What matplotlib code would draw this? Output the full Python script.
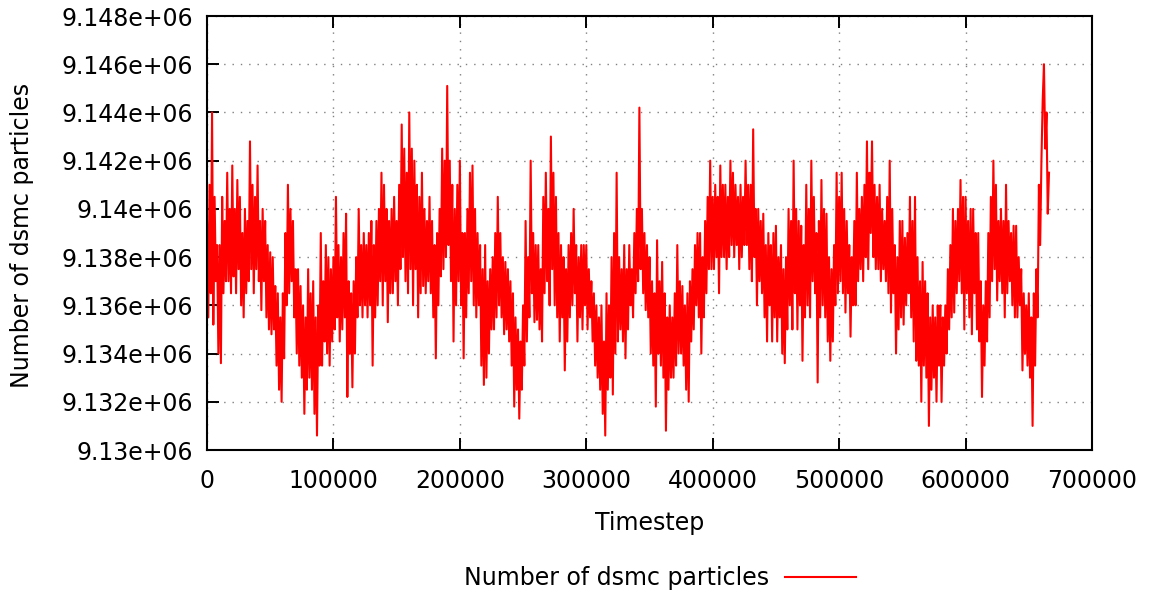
import matplotlib
matplotlib.use("Agg")
import matplotlib.pyplot as plt
from matplotlib.ticker import MultipleLocator, FuncFormatter
import numpy as np

# Output interval between samples (timesteps)
sample_every = 1000

# Number of DSMC particles, one value per sample
dsmc_particles = [
    9139500, 9135500, 9141000, 9136500, 9144000, 9135200, 9140500, 9137000, 9138500, 9134000,
    9138500, 9133600, 9140500, 9136500, 9139500, 9137000, 9141500, 9137000, 9140000, 9136500,
    9141800, 9137200, 9140000, 9136500, 9141200, 9137500, 9140500, 9136000, 9139000, 9135500,
    9140000, 9136500, 9139500, 9137000, 9142800, 9137500, 9141000, 9136500, 9140500, 9137500,
    9141800, 9137000, 9139500, 9135800, 9140000, 9137000, 9139500, 9135500, 9138500, 9135000,
    9138200, 9134800, 9138000, 9135000, 9136800, 9133500, 9136500, 9132500, 9135500, 9132000,
    9136500, 9133800, 9139000, 9136000, 9141000, 9136500, 9140000, 9137000, 9139500, 9135500,
    9137500, 9134000, 9137500, 9133500, 9136800, 9133000, 9136000, 9131500, 9135500, 9132500,
    9137500, 9133000, 9136500, 9132500, 9137000, 9131500, 9135500, 9130600, 9136000, 9133500,
    9139000, 9133500, 9137000, 9134500, 9138500, 9134000, 9138000, 9133500, 9137500, 9134500,
    9138000, 9135000, 9140500, 9135500, 9138500, 9134500, 9138000, 9135000, 9139000, 9135500,
    9139800, 9132200, 9137000, 9134000, 9136500, 9132600, 9137000, 9134000, 9138000, 9135500,
    9140000, 9136000, 9138500, 9135500, 9139000, 9136000, 9138500, 9135500, 9139000, 9136000,
    9139500, 9133500, 9138500, 9135500, 9139500, 9136000, 9140000, 9137000, 9141500, 9136000,
    9141000, 9137000, 9140000, 9135300, 9139500, 9136500, 9140000, 9136500, 9140500, 9137000,
    9139500, 9136000, 9141000, 9137500, 9143500, 9138000, 9142500, 9137000, 9141500, 9136500,
    9144000, 9137500, 9142500, 9136000, 9142000, 9137500, 9141000, 9135500, 9140500, 9136500,
    9141500, 9136800, 9140000, 9136500, 9139500, 9137000, 9140500, 9136500, 9139500, 9135500,
    9138500, 9133800, 9139000, 9136000, 9140000, 9137200, 9142500, 9137500, 9142000, 9138000,
    9145100, 9138500, 9142000, 9137000, 9141000, 9134500, 9140000, 9136000, 9141000, 9137000,
    9142000, 9136000, 9139000, 9133800, 9139000, 9135500, 9140000, 9136500, 9141500, 9137000,
    9141800, 9136000, 9140000, 9135500, 9139000, 9136000, 9138500, 9133500, 9137500, 9132700,
    9138500, 9133000, 9137000, 9134000, 9137500, 9135000, 9138000, 9135000, 9139000, 9135500,
    9140500, 9136000, 9139000, 9135500, 9138000, 9134800, 9137800, 9135000, 9137500, 9134500,
    9137000, 9133500, 9136500, 9131800, 9135500, 9132500, 9135000, 9131300, 9134500, 9132500,
    9136000, 9133500, 9139500, 9134500, 9138000, 9135500, 9142000, 9136500, 9139000, 9135300,
    9138500, 9135400, 9138500, 9135000, 9137500, 9134500, 9140500, 9136500, 9141500, 9137000,
    9140000, 9136000, 9143000, 9137500, 9141500, 9136000, 9140500, 9135500, 9139000, 9134500,
    9138500, 9135500, 9138000, 9133300, 9137500, 9134500, 9138500, 9135500, 9139000, 9136000,
    9140000, 9136500, 9138500, 9134500, 9138000, 9135500, 9138500, 9135000, 9138500, 9136000,
    9138500, 9135000, 9137500, 9135500, 9137000, 9134500, 9136500, 9133500, 9136000, 9133000,
    9135500, 9132500, 9136000, 9131500, 9134500, 9130600, 9136500, 9132500, 9136000, 9133000,
    9138000, 9132300, 9139000, 9134000, 9141500, 9134500, 9138000, 9135000, 9137500, 9134500,
    9138500, 9133800, 9137500, 9135000, 9138500, 9136000, 9137500, 9135500, 9139000, 9136500,
    9140000, 9137000, 9144200, 9137500, 9140000, 9136500, 9139000, 9135800, 9138500, 9135500,
    9138000, 9134000, 9137000, 9133500, 9136500, 9131800, 9138700, 9134000, 9137000, 9133500,
    9137800, 9133000, 9136500, 9130800, 9135500, 9132500, 9136000, 9133000, 9135500, 9133000,
    9136500, 9133500, 9138500, 9134000, 9137000, 9134000, 9136800, 9133500, 9136000, 9132500,
    9136500, 9132000, 9137000, 9134500, 9137500, 9135000, 9138500, 9136000, 9139000, 9135500,
    9139000, 9134000, 9138000, 9135500, 9139500, 9136500, 9140500, 9137500, 9142000, 9137500,
    9140500, 9137500, 9141000, 9138000, 9140500, 9136500, 9141800, 9138000, 9141000, 9138000,
    9141000, 9137500, 9140500, 9138000, 9142000, 9138500, 9141500, 9138000, 9141000, 9138500,
    9140500, 9137500, 9141000, 9138000, 9140500, 9138500, 9142000, 9138500, 9141000, 9137500,
    9141000, 9137000, 9143300, 9138000, 9140000, 9136000, 9140000, 9137000, 9139500, 9136500,
    9139800, 9135500, 9138500, 9134500, 9139000, 9136000, 9138500, 9134500, 9139000, 9135500,
    9139300, 9134500, 9138000, 9135500, 9138500, 9134000, 9137500, 9133600, 9138000, 9135000,
    9140000, 9136000, 9139500, 9135000, 9142000, 9136500, 9140000, 9135000, 9139500, 9136000,
    9139300, 9133700, 9138500, 9135500, 9141000, 9136000, 9140000, 9135500, 9142000, 9137000,
    9140500, 9136500, 9139000, 9132800, 9139500, 9135500, 9141200, 9136000, 9140000, 9135500,
    9139800, 9134500, 9138000, 9133700, 9137500, 9134500, 9138500, 9136000, 9141500, 9136500,
    9140500, 9137000, 9141500, 9136500, 9140000, 9135700, 9139500, 9136500, 9138500, 9134700,
    9138000, 9136000, 9139500, 9136000, 9141500, 9137000, 9140000, 9137500, 9140500, 9137000,
    9141000, 9138000, 9142800, 9137500, 9141500, 9139000, 9142800, 9138000, 9141000, 9137500,
    9140500, 9137500, 9141000, 9137000, 9140000, 9137500, 9139500, 9137000, 9140500, 9136500,
    9142000, 9135700, 9140000, 9136500, 9138500, 9134000, 9138000, 9135000, 9139500, 9135500,
    9139500, 9135200, 9138800, 9136000, 9139000, 9136500, 9140500, 9135500, 9139500, 9134500,
    9140500, 9133700, 9138000, 9133500, 9137000, 9132000, 9137800, 9133500, 9137000, 9133000,
    9136500, 9131000, 9135500, 9132500, 9136000, 9133000, 9135500, 9132000, 9136000, 9133500,
    9136000, 9132000, 9135500, 9133500, 9136000, 9134000, 9137500, 9135000, 9138500, 9135500,
    9140000, 9135700, 9139500, 9136500, 9140000, 9137000, 9141200, 9136500, 9140500, 9135000,
    9140500, 9136500, 9139500, 9135500, 9140000, 9134800, 9140000, 9136500, 9139000, 9135000,
    9139000, 9134500, 9137000, 9132200, 9136000, 9133500, 9137000, 9134500, 9139000, 9135500,
    9140500, 9137000, 9142000, 9137500, 9141000, 9136200, 9139500, 9137000, 9140000, 9136500,
    9139500, 9135500, 9141000, 9136500, 9139500, 9137000, 9139000, 9136000, 9139300, 9135500,
    9139300, 9135500, 9138000, 9136000, 9137500, 9133300, 9136500, 9134000, 9136000, 9133500,
    9136500, 9133000, 9135500, 9131000, 9136500, 9133500, 9137500, 9135500, 9141000, 9138500,
    9142000, 9144500, 9146000, 9142500, 9144000, 9139800, 9141500,
]
timesteps = np.arange(len(dsmc_particles)) * sample_every

series_label = "Number of dsmc particles"
x_label = "Timestep"
y_label = "Number of dsmc particles"

W, H = 1149, 595
fig = plt.figure(figsize=(W / 100, H / 100), dpi=100)
ax = fig.add_axes([207 / W, 1 - 450 / H, (1092 - 207) / W, (450 - 16) / H])

ax.plot(timesteps, dsmc_particles, color="#ff0000", lw=1.5, label=series_label)

ax.set_xlim(0, 700000)
ax.set_ylim(9.130e6, 9.148e6)
ax.xaxis.set_major_locator(MultipleLocator(100000))
ax.yaxis.set_major_locator(MultipleLocator(2000))
fmt = FuncFormatter(lambda v, p: "%g" % v)
ax.xaxis.set_major_formatter(fmt)
ax.yaxis.set_major_formatter(fmt)

fs = 17
ax.tick_params(axis="both", direction="in", length=8.5, width=1.4,
               labelsize=fs, colors="black")
ax.tick_params(axis="x", top=True, bottom=True, pad=14)
ax.tick_params(axis="y", left=True, right=False, pad=10)

ax.grid(True, color="#808080", linestyle=(0, (1, 5)), linewidth=1.0)
ax.set_axisbelow(True)
for s in ax.spines.values():
    s.set_linewidth(1.5)
    s.set_color("black")

fig.text(649.5 / W, 1 - 523 / H, x_label, ha="center", va="center", fontsize=fs)
fig.text(22 / W, 1 - 235 / H, y_label, ha="center", va="center",
         rotation=90, fontsize=fs)

fig.legend(loc="center", bbox_to_anchor=(660 / W, 1 - 578 / H), frameon=False,
           markerfirst=False, fontsize=fs, handlelength=3.0, handletextpad=0.7)

fig.savefig("out.png", dpi=100)
